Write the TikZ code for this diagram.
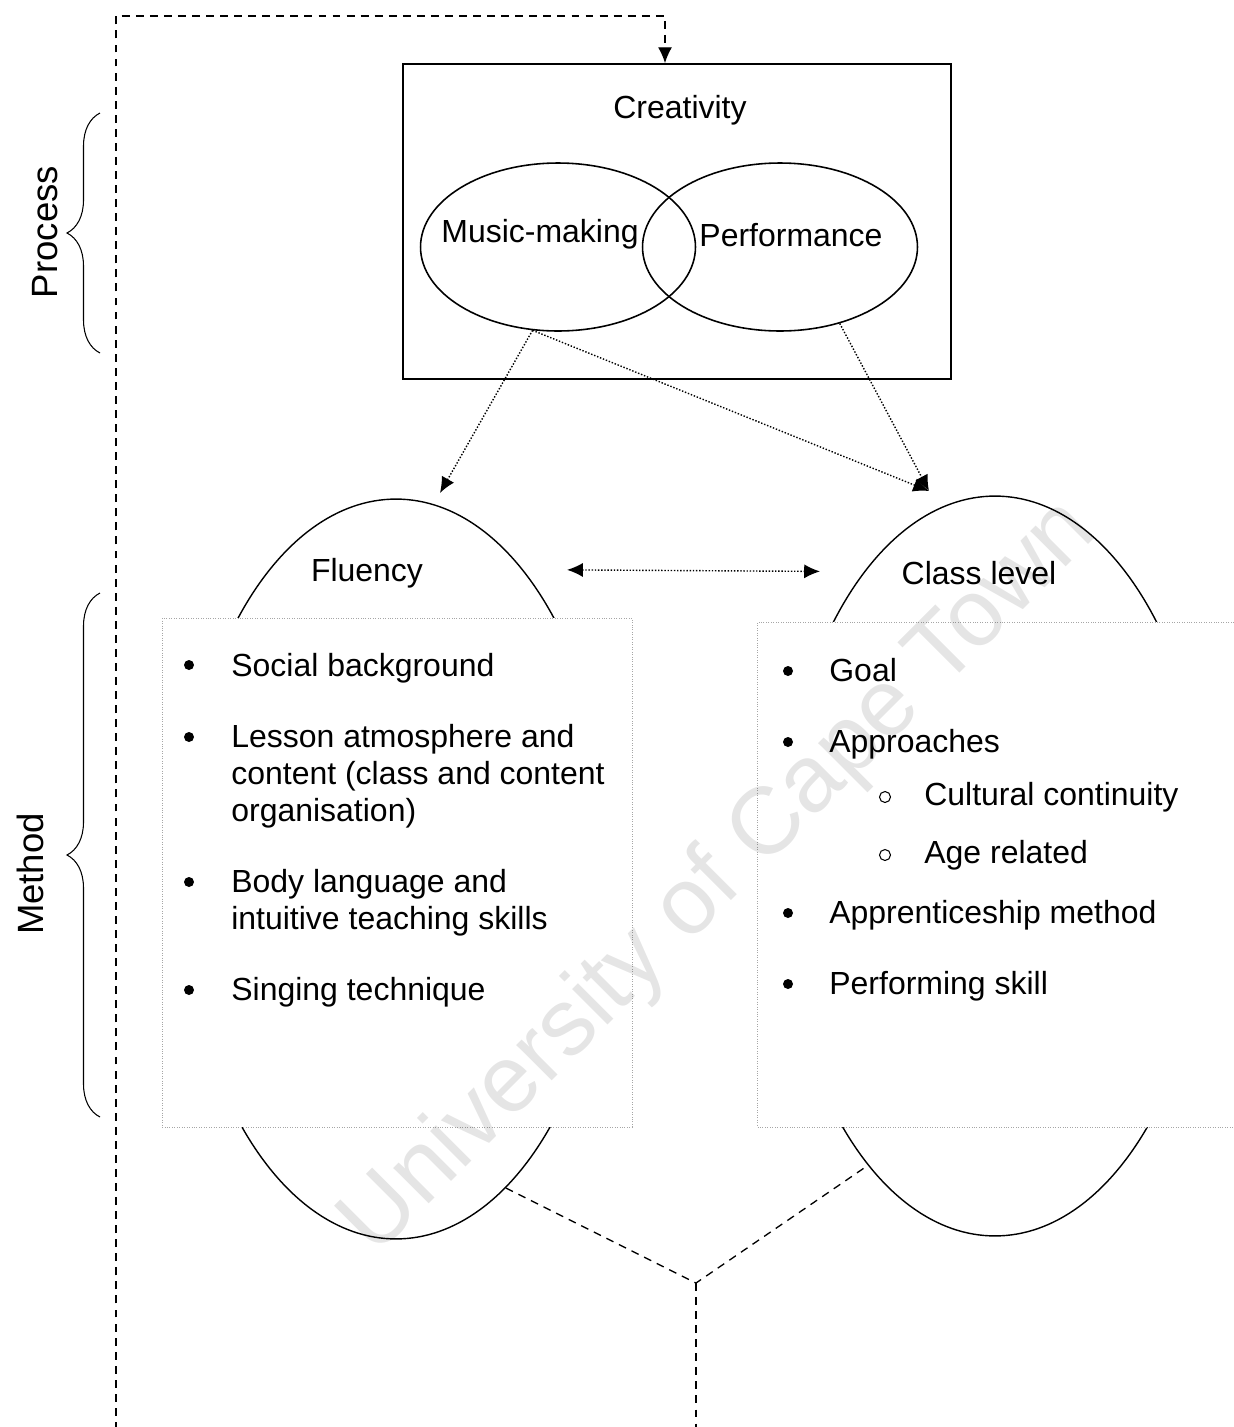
\documentclass[tikz,border=0pt]{standalone}
\usepackage{fontspec}
\setmainfont{Liberation Sans}
\usetikzlibrary{arrows.meta,shapes.geometric,decorations.pathreplacing}

\tikzstyle{creatbox} = [rectangle, draw=black, line width=1.1pt, minimum width=10.96cm, minimum height=6.3cm, inner sep=0pt]
\tikzstyle{venn} = [ellipse, draw=black, line width=0.9pt, minimum width=5.5cm, minimum height=3.36cm, inner sep=0pt]
\tikzstyle{factor} = [ellipse, draw=black, line width=0.8pt, minimum width=8.6cm, minimum height=14.8cm, inner sep=0pt]
\tikzstyle{listbox} = [rectangle, draw=gray!70, densely dotted, fill=white, inner sep=0pt]
\tikzstyle{item} = [anchor=north west, align=left, inner sep=0pt]
\tikzstyle{dot} = [circle, fill=black, inner sep=0pt, minimum size=0.2cm]
\tikzstyle{ring} = [circle, draw=black, semithick, inner sep=0pt, minimum size=0.22cm]
\tikzstyle{flow} = [line width=0.8pt, densely dotted]
\tikzstyle{feedback} = [line width=0.75pt, dash pattern=on 4.5pt off 3.5pt]

\begin{document}
\begin{tikzpicture}[x=0.02cm, y=-0.02cm, >={Latex[length=9pt,width=8pt]}, font=\fontsize{18.2}{21}\selectfont]
	\useasboundingbox (0,0) rectangle (1234,1427);
	\clip (0,0) rectangle (1234,1427);

	\node [factor] (fluency) at (396,869) {};
	\node [factor] (classlevel) at (995,866) {};
	\coordinate (join) at (696,1283);

	% feedback loop
	\draw[feedback] (fluency.-71) -- (join) -- (classlevel.247);

	\node [creatbox] (creat) at (677,221.5) {};
	\node (creattxt) at (680,110) {Creativity};
	\node [venn] (music) at (558,247) {};
	\node [venn] (perf) at (780,247) {};
	\node (musictxt) at (540,234) {Music-making};
	\node (perftxt) at (791,235) {Performance};

	\draw[feedback, ->] (join) -- (696,1460) -| (116,16) -| ([xshift=-0.24cm]creat.north);

	\node (fluencytxt) at (367,573) {Fluency};
	\node (classtxt) at (979,573) {Class level};

	\coordinate (flin) at (440,493);
	\coordinate (clin) at (929,491);
	\draw[flow, ->] (music.253) -- (flin);
	\draw[flow, ->] (music.253) -- (clin);
	\draw[flow, ->] (perf.-52) -- (clin);
	\draw[flow, <->, shorten <=25pt, shorten >=25pt] (fluency.67) -- (classlevel.114);

	\node [listbox, minimum width=9.4cm, minimum height=10.18cm] (listL) at (397,872.5) {};
	\node [listbox, minimum width=9.9cm, minimum height=10.1cm] (listR) at (1005,874.5) {};

	\node [dot] (b1) at (189,665) {};
	\node [dot] (b2) at (189,737) {};
	\node [dot] (b3) at (189,882) {};
	\node [dot] (b4) at (189,990) {};
	\node [item] (social) at (231,653) {Social background};
	\node [item] (lesson) at (231,724) {Lesson atmosphere and\\content (class and content\\organisation)};
	\node [item] (body) at (231,869) {Body language and\\intuitive teaching skills};
	\node [item] (singing) at (231,977) {Singing technique};

	\node [dot] (b5) at (788,671) {};
	\node [dot] (b6) at (788,742) {};
	\node [ring] (b7) at (885,797) {};
	\node [ring] (b8) at (885,855) {};
	\node [dot] (b9) at (788,913) {};
	\node [dot] (b10) at (788,984) {};
	\node [item] (goal) at (829,658) {Goal};
	\node [item] (approach) at (829,729) {Approaches};
	\node [item] (cultural) at (924,782) {Cultural continuity};
	\node [item] (age) at (924,840) {Age related};
	\node [item] (apprentice) at (829,900) {Apprenticeship method};
	\node [item] (performing) at (829,971) {Performing skill};

	\draw[semithick, decorate, decoration={brace, amplitude=0.66cm}] (100,353) -- (100,113);
	\draw[semithick, decorate, decoration={brace, amplitude=0.66cm}] (100,1117) -- (100,593);
	\node [rotate=90, font=\fontsize{20.8}{24}\selectfont] (process) at (45,232) {Process};
	\node [rotate=90, font=\fontsize{20.8}{24}\selectfont] (method) at (30,874) {Method};

	\node [rotate=45, text opacity=0.1, font=\fontsize{54}{60}\selectfont] (watermark) at (720,878) {University of Cape Town};
\end{tikzpicture}
\end{document}
